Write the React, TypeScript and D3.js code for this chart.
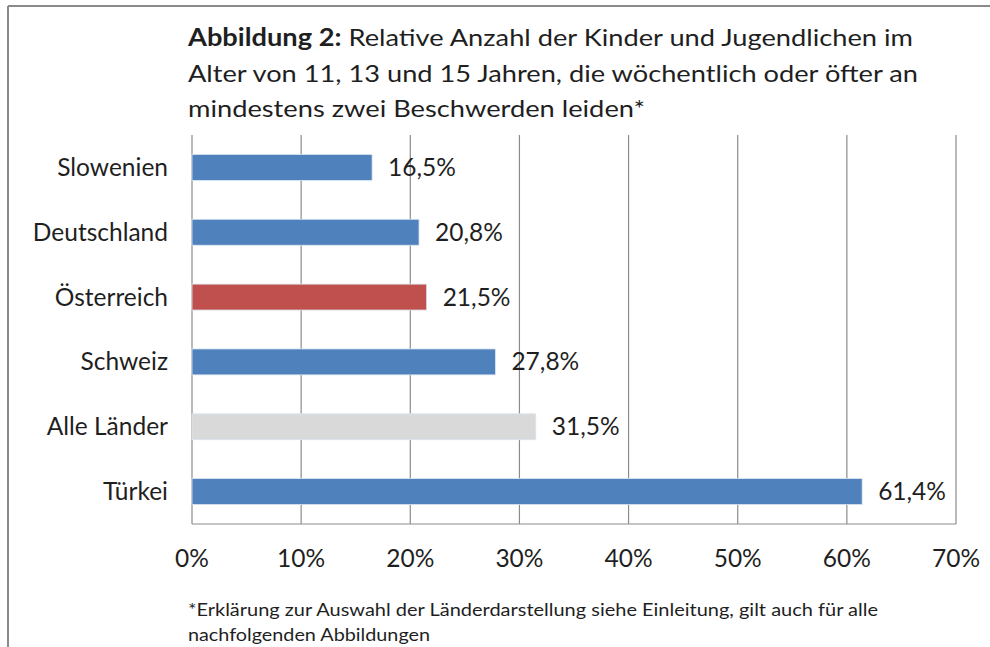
import React from 'react';
import { scaleBand, scaleLinear } from 'd3';

const categories = ['Slowenien', 'Deutschland', 'Österreich', 'Schweiz', 'Alle Länder', 'Türkei'];
const values = [0.165, 0.208, 0.215, 0.278, 0.315, 0.614];
const barColors = ['#4F81BD', '#4F81BD', '#C0504D', '#4F81BD', '#D9D9D9', '#4F81BD'];
const ticks = [0, 0.1, 0.2, 0.3, 0.4, 0.5, 0.6, 0.7];
const titleLines = [
    'Relative Anzahl der Kinder und Jugendlichen im',
    'Alter von 11, 13 und 15 Jahren, die wöchentlich oder öfter an',
    'mindestens zwei Beschwerden leiden*',
];
const footnoteLines = [
    '*Erklärung zur Auswahl der Länderdarstellung siehe Einleitung, gilt auch für alle',
    'nachfolgenden Abbildungen',
];

const width = 990;
const height = 647;
const font = 'Lato, "Open Sans", sans-serif';
const textColor = '#1f1f1f';

const fmt = (v: number) => (v * 100).toFixed(1).replace('.', ',') + '%';

const App = () => {
    const xScale = scaleLinear().domain([0, 0.7]).range([192, 956]);
    const yScale = scaleBand()
        .domain(categories)
        .range([135, 524])
        .paddingInner(0.6)
        .paddingOuter(0.3);

    const plotTop = 135;
    const plotBottom = 524;

    return (
        <svg width={width} height={height} style={{ position: 'absolute', left: 0, top: 0, background: '#fff' }}
            fontFamily={font}>
            <rect x={0} y={0} width={width} height={height} fill="#fff" />
            {/* outer frame */}
            <line x1={8} x2={width} y1={6} y2={6} stroke="#8a8a8a" strokeWidth={2} />
            <line x1={8} x2={8} y1={6} y2={height} stroke="#8a8a8a" strokeWidth={2} />

            {/* title */}
            <text x={188} y={46} fontSize={24} fill={textColor} textLength={725} lengthAdjust="spacingAndGlyphs">
                <tspan fontWeight="bold">Abbildung 2:</tspan> {titleLines[0]}
            </text>
            <text x={188} y={82} fontSize={24} fill={textColor} textLength={730} lengthAdjust="spacingAndGlyphs">
                {titleLines[1]}
            </text>
            <text x={188} y={117} fontSize={24} fill={textColor} textLength={457} lengthAdjust="spacingAndGlyphs">
                {titleLines[2]}
            </text>

            {/* gridlines */}
            {ticks.map(t => (
                <line key={t} x1={xScale(t)} x2={xScale(t)} y1={plotTop} y2={plotBottom}
                    stroke="#8c8c8c" strokeWidth={1.2} />
            ))}
            <line x1={xScale(0)} x2={xScale(0.7)} y1={plotBottom} y2={plotBottom} stroke="#8c8c8c" strokeWidth={1.2} />

            {/* bars */}
            {categories.map((c, i) => (
                <g key={c}>
                    <rect x={xScale(0)} y={yScale(c)} width={xScale(values[i]) - xScale(0)}
                        height={yScale.bandwidth()} fill={barColors[i]} stroke="#dbe5f1" strokeWidth={0.8} />
                    <text x={xScale(values[i]) + 16} y={(yScale(c) as number) + yScale.bandwidth() / 2}
                        dy="0.35em" fontSize={24.5} fill={textColor}>{fmt(values[i])}</text>
                    <text x={168} y={(yScale(c) as number) + yScale.bandwidth() / 2}
                        dy="0.35em" fontSize={24.5} textAnchor="end" fill={textColor}>{c}</text>
                </g>
            ))}

            {/* x tick labels */}
            {ticks.map(t => (
                <text key={t} x={xScale(t)} y={567} fontSize={24.5} textAnchor="middle" fill={textColor}>
                    {(t * 100).toFixed(0)}%
                </text>
            ))}

            {/* footnote */}
            <text x={188} y={616} fontSize={17} fill={textColor} textLength={690} lengthAdjust="spacingAndGlyphs">
                {footnoteLines[0]}
            </text>
            <text x={188} y={641} fontSize={17} fill={textColor} textLength={242} lengthAdjust="spacingAndGlyphs">
                {footnoteLines[1]}
            </text>
        </svg>
    );
};

export default App;
